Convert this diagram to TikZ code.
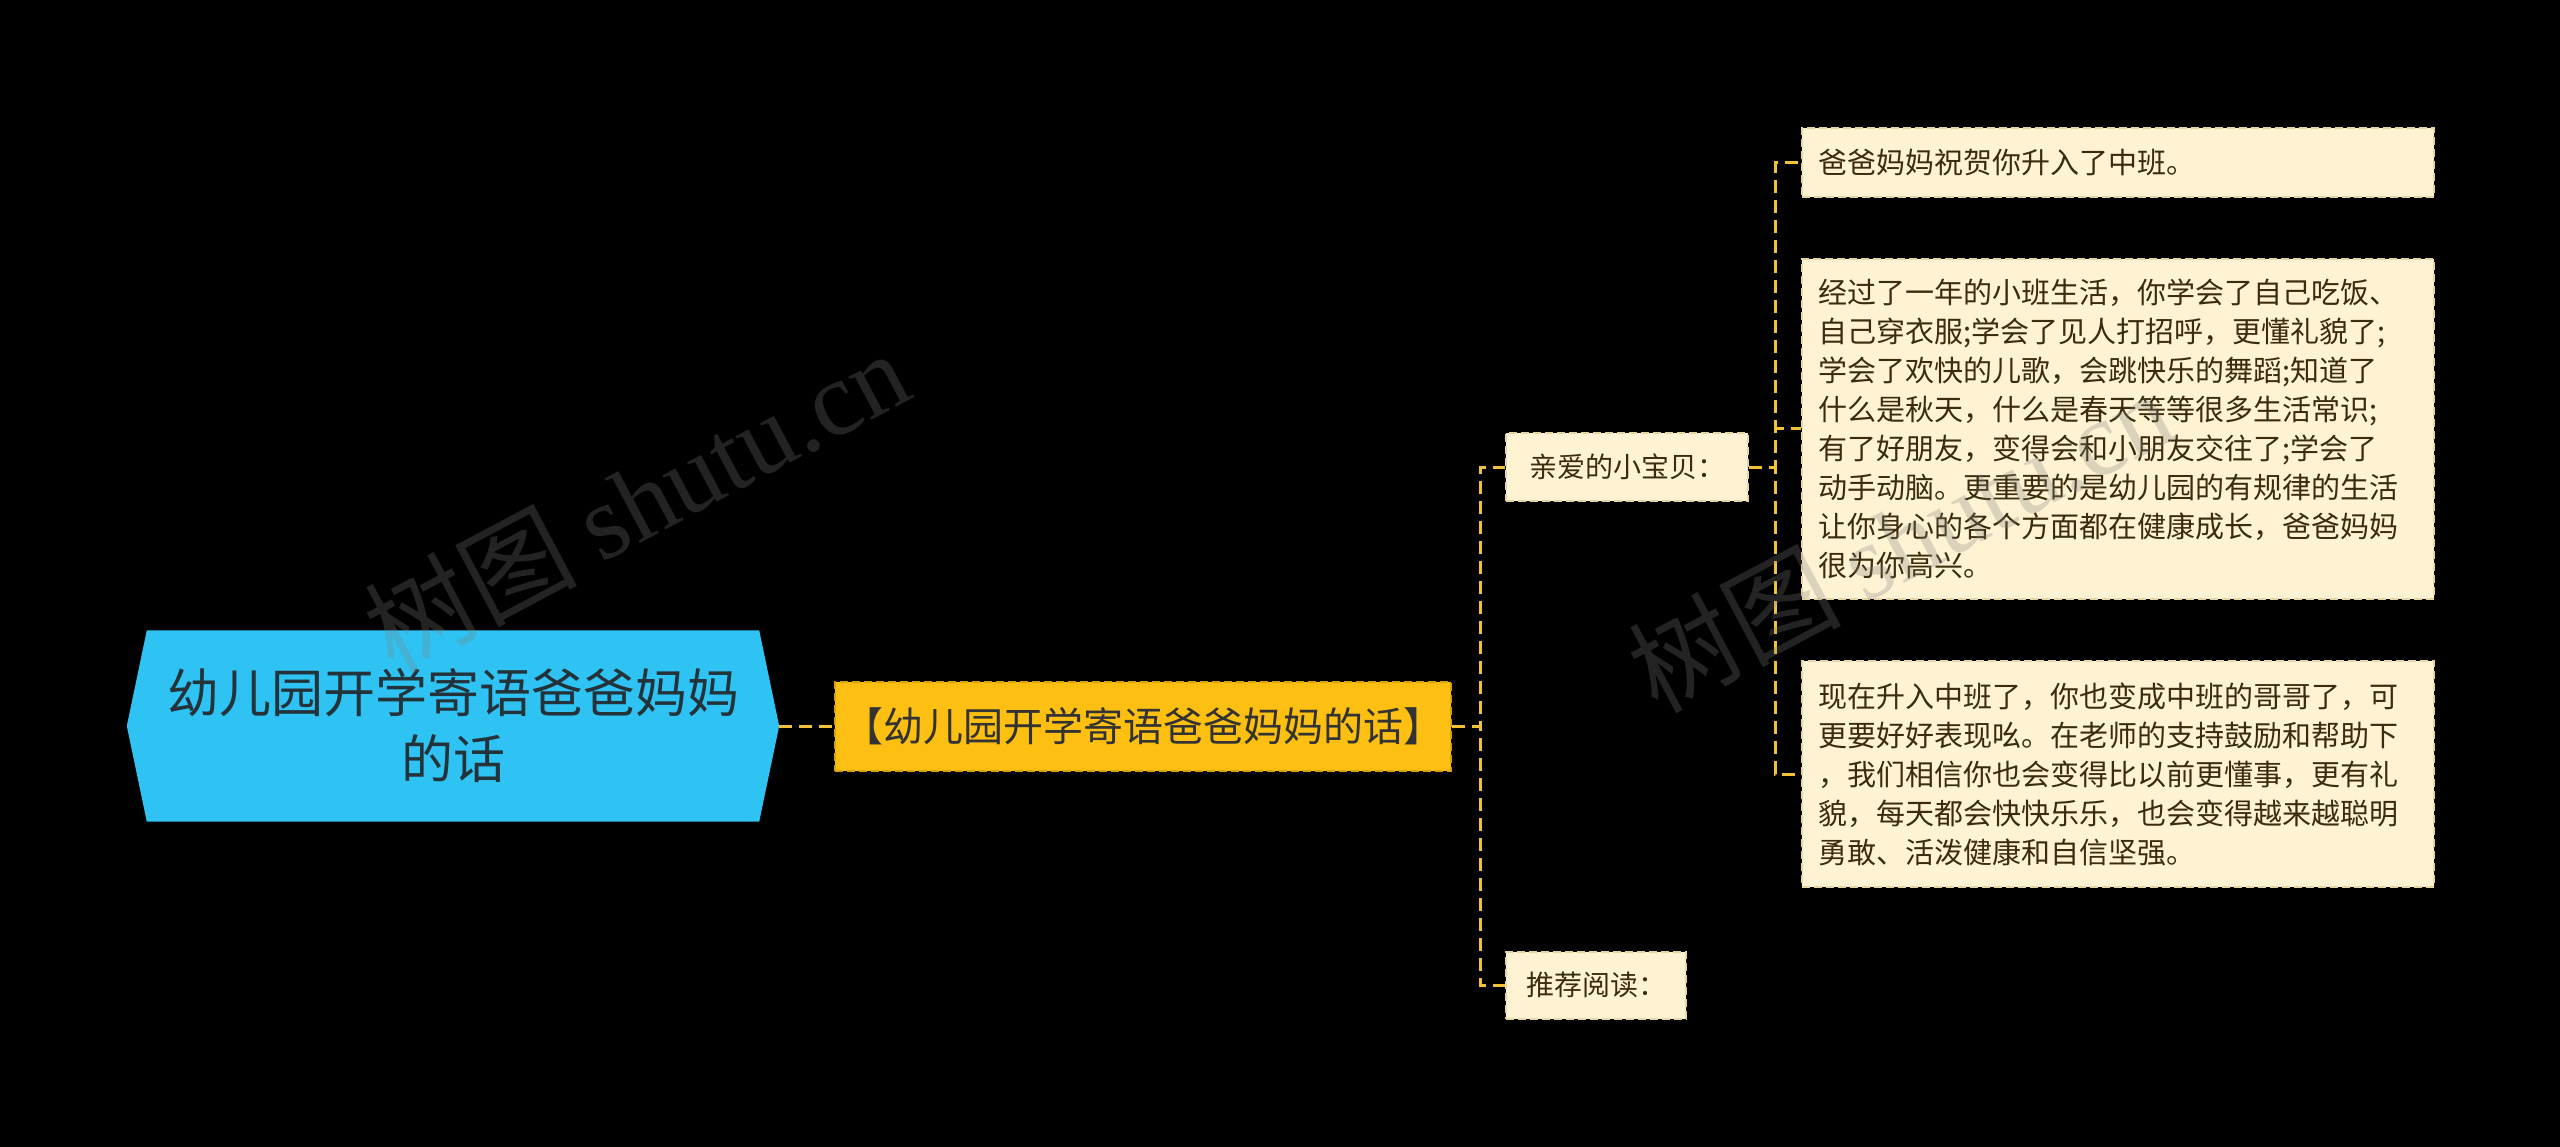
\documentclass[tikz,border=0pt]{standalone}
\usepackage{fontspec}
\setmainfont{Noto Sans CJK SC}
\newfontfamily\wmfont{Liberation Serif}
\usetikzlibrary{backgrounds}
\definecolor{rootc}{HTML}{2EC3F3}
\definecolor{roottext}{HTML}{24323A}
\definecolor{lonec}{HTML}{FDBF12}
\definecolor{loneborder}{HTML}{D9A20A}
\definecolor{creamc}{HTML}{FFF3D4}
\definecolor{creamborder}{HTML}{E6D5A3}
\definecolor{browntext}{HTML}{3A2C0C}
\definecolor{connc}{HTML}{F2C13A}
\tikzset{
  rootbox/.style={minimum width=652pt, minimum height=191pt, inner sep=0pt, align=center,
    text=roottext, font=\fontsize{52}{66}\selectfont},
  lonebox/.style={fill=lonec, draw=loneborder, line width=2pt, dash pattern=on 8pt off 4pt,
    minimum width=616pt, minimum height=89pt, inner sep=0pt, text=black!80,
    font=\fontsize{40}{48}\selectfont, anchor=west},
  ltwobox/.style={fill=creamc, draw=creamborder, line width=2pt, dash pattern=on 8pt off 4pt,
    minimum height=67pt, inner sep=0pt, text=browntext,
    font=\fontsize{28}{36}\selectfont, anchor=west},
  lthreebox/.style={fill=creamc, draw=creamborder, line width=2pt, dash pattern=on 8pt off 4pt,
    minimum width=632pt, text width=600pt, inner xsep=16pt, inner ysep=0pt, align=left,
    text=browntext, font=\fontsize{29}{39}\selectfont, anchor=west},
  conn/.style={draw=connc, line width=3pt, dash pattern=on 13pt off 7pt},
  wm/.style={text=gray, text opacity=0.28, font=\fontsize{106}{106}\selectfont, inner sep=0pt},
}
\begin{document}
\begin{tikzpicture}[x=1pt,y=-1pt]
\useasboundingbox (0,0) rectangle (2560,1147);

\node[rootbox] (root) at (453,726) {幼儿园开学寄语爸爸妈妈\\的话};
\node[lonebox] (l1) at (834,726) {【幼儿园开学寄语爸爸妈妈的话】};
\node[ltwobox, minimum width=242pt] (l2a) at (1505,467) {亲爱的小宝贝：};
\node[ltwobox, minimum width=180pt] (l2b) at (1505,985) {推荐阅读：};

\node[lthreebox, minimum height=69pt] (l3a) at (1801,163) {爸爸妈妈祝贺你升入了中班。};
\node[lthreebox, minimum height=339pt] (l3b) at (1801,429) {经过了一年的小班生活，你学会了自己吃饭、\\自己穿衣服;学会了见人打招呼，更懂礼貌了;\\学会了欢快的儿歌，会跳快乐的舞蹈;知道了\\什么是秋天，什么是春天等等很多生活常识;\\有了好朋友，变得会和小朋友交往了;学会了\\动手动脑。更重要的是幼儿园的有规律的生活\\让你身心的各个方面都在健康成长，爸爸妈妈\\很为你高兴。};
\node[lthreebox, minimum height=226pt] (l3c) at (1801,774) {现在升入中班了，你也变成中班的哥哥了，可\\更要好好表现吆。在老师的支持鼓励和帮助下\\，我们相信你也会变得比以前更懂事，更有礼\\貌，每天都会快快乐乐，也会变得越来越聪明\\勇敢、活泼健康和自信坚强。};

\begin{scope}[on background layer]
  \fill[black] (0,0) rectangle (2560,1147);
  \fill[rootc] (root.west) -- ([xshift=20pt]root.north west) -- ([xshift=-20pt]root.north east)
    -- (root.east) -- ([xshift=-20pt]root.south east) -- ([xshift=20pt]root.south west) -- cycle;
  \draw[conn] (root.east) -- (l1.west);
  \draw[conn] (l1.east) -- ++(28,0) |- (l2a.west);
  \draw[conn] (l1.east) -- ++(28,0) |- (l2b.west);
  \draw[conn] (l2a.east) -- ++(26,0) |- (l3a.west);
  \draw[conn] (l2a.east) -- ++(26,0) |- (l3b.west);
  \draw[conn] (l2a.east) -- ++(26,0) |- (l3c.west);
\end{scope}

% watermarks
\node[wm, rotate=28] (wma) at (636,500) {树图 {\wmfont shutu.cn}};
\node[wm, rotate=28] (wmb) at (1900,540) {树图 {\wmfont shutu.cn}};
\end{tikzpicture}
\end{document}
